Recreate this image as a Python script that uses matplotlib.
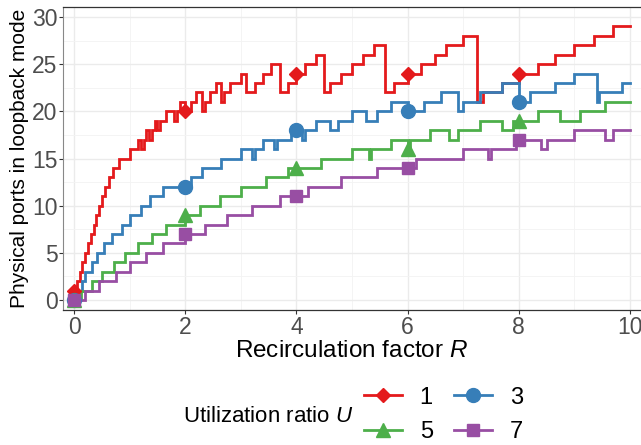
import numpy as np
import matplotlib
matplotlib.use('Agg')
import matplotlib.pyplot as plt
from matplotlib.lines import Line2D

plt.rcParams['font.family'] = ['Liberation Sans', 'DejaVu Sans']
plt.rcParams['mathtext.fontset'] = 'custom'
plt.rcParams['mathtext.rm'] = 'Liberation Sans'
plt.rcParams['mathtext.it'] = 'Liberation Sans:italic'

# Données : points de rupture des escaliers
x_red = [0, 0.05, 0.1, 0.15, 0.2, 0.25, 0.3, 0.35, 0.4, 0.45,
         0.5, 0.55, 0.62, 0.7, 0.8, 1.0, 1.15, 1.2, 1.25, 1.3,
         1.35, 1.4, 1.45, 1.5, 1.55, 1.65, 1.8, 1.85, 1.9, 2.0,
         2.1, 2.2, 2.3, 2.35, 2.45, 2.55, 2.65, 2.7, 2.8, 3.0,
         3.1, 3.25, 3.4, 3.55, 3.7, 3.85, 4.0, 4.15, 4.35, 4.5,
         4.6, 4.8, 5.0, 5.2, 5.4, 5.6, 5.75, 6.0, 6.25, 6.5,
         6.7, 7.0, 7.25, 7.35, 7.7, 8.0, 8.35, 8.65, 9.0, 9.35, 9.7]
y_red = [1, 2, 3, 4, 5, 6, 7, 8, 9, 10,
         11, 12, 13, 14, 15, 16, 17, 16, 17, 18,
         17, 18, 19, 18, 19, 20, 19, 20, 21, 20,
         21, 22, 20, 21, 22, 23, 21, 22, 23, 24,
         22, 23, 24, 25, 22, 23, 24, 25, 26, 22,
         23, 24, 25, 26, 27, 22, 23, 24, 25, 26,
         27, 28, 21, 22, 23, 24, 25, 26, 27, 28, 29]

x_blue = [0, 0.08, 0.14, 0.2, 0.32, 0.41, 0.53, 0.68, 0.86, 1.0,
          1.2, 1.37, 1.6, 2.1, 2.3, 2.65, 3.0, 3.2, 3.25, 3.4,
          3.6, 3.65, 3.9, 4.1, 4.15, 4.35, 4.6, 4.75, 5.0, 5.25,
          5.45, 5.7, 6.0, 6.3, 6.6, 6.9, 7.0, 7.3, 7.7, 8.0,
          8.2, 8.65, 9.0, 9.4, 9.45, 9.85]
y_blue = [0, 1, 2, 3, 4, 5, 6, 7, 8, 9,
          10, 11, 12, 13, 14, 15, 16, 15, 16, 17,
          16, 17, 18, 17, 18, 19, 18, 19, 20, 19,
          20, 21, 20, 21, 22, 20, 21, 22, 23, 21,
          22, 23, 24, 21, 22, 23]

x_green = [0, 0.12, 0.32, 0.5, 0.71, 0.92, 1.15, 1.4, 1.65, 2.0,
           2.27, 2.63, 3.0, 3.45, 3.85, 4.45, 5.0, 5.3, 5.35, 5.7,
           6.0, 6.05, 6.4, 6.75, 6.9, 7.3, 7.7, 7.9, 8.35, 8.75,
           9.1, 9.55]
y_green = [0, 1, 2, 3, 4, 5, 6, 7, 8, 9,
           10, 11, 12, 13, 14, 15, 16, 15, 16, 17,
           16, 17, 18, 17, 18, 19, 18, 19, 20, 19,
           20, 21]

x_purple = [0, 0.2, 0.45, 0.75, 1.0, 1.3, 1.6, 2.0, 2.35, 2.75,
            3.2, 3.7, 4.2, 4.8, 5.45, 6.15, 7.0, 7.45, 7.5, 7.95,
            8.4, 8.5, 9.0, 9.55, 9.7]
y_purple = [0, 1, 2, 3, 4, 5, 6, 7, 8, 9,
            10, 11, 12, 13, 14, 15, 16, 15, 16, 17,
            16, 17, 18, 17, 18]

R_max = 10
marker_R = [0, 2, 4, 6, 8]
labels = ['1', '3', '5', '7']

series = [
    (x_red, y_red, '#E41A1C', 'D', 7),
    (x_blue, y_blue, '#377EB8', 'o', 10),
    (x_green, y_green, '#4DAF4A', '^', 10),
    (x_purple, y_purple, '#984EA3', 's', 8),
]

fig = plt.figure(figsize=(6.41, 4.45), dpi=100)
ax = fig.add_axes([63/641, 1 - 310/445, (641 - 63)/641, (310 - 7)/445])

handles = []
for (xs, ys, col, mk, ms), lab in zip(series, labels):
    xs = np.array(xs, dtype=float)
    ys = np.array(ys, dtype=float)
    ax.step(np.append(xs, R_max), np.append(ys, ys[-1]), where='post',
            color=col, lw=2.0, solid_joinstyle='miter', zorder=3)
    idx = np.searchsorted(xs, np.array(marker_R, dtype=float), side='right') - 1
    ax.plot(np.array(marker_R), ys[idx], linestyle='none', marker=mk,
            markersize=ms, color=col, zorder=4)
    handles.append(Line2D([], [], color=col, lw=2.0, marker=mk,
                          markersize=ms, label=lab))

ax.set_xlim(-0.2, 10.2)
ax.set_ylim(-1.06, 31.06)
ax.set_xticks(range(0, 11, 2))
ax.set_yticks(range(0, 31, 5))
ax.set_xticks(range(1, 11, 2), minor=True)
ax.set_yticks(np.arange(2.5, 30, 5), minor=True)
ax.grid(True, which='major', color='#EBEBEB', lw=1.0, zorder=0)
ax.grid(True, which='minor', color='#F3F3F3', lw=0.6, zorder=0)
ax.set_axisbelow(True)
ax.tick_params(which='major', length=3, width=0.8, color='#333333',
               labelsize=16.5, labelcolor='#4D4D4D', pad=1)
ax.tick_params(which='minor', length=0)
for s in ['top', 'bottom']:
    ax.spines[s].set_color('#333333')
    ax.spines[s].set_linewidth(0.9)
ax.spines['left'].set_color('#888888')
ax.spines['left'].set_linewidth(0.8)
ax.spines['right'].set_visible(False)

ax.set_xlabel('Recirculation factor $R$', fontsize=17.5, labelpad=1)
ax.set_ylabel('Physical ports in loopback mode', fontsize=15, labelpad=2)

order = [0, 2, 1, 3]
leg = fig.legend([handles[i] for i in order], [labels[i] for i in order],
                 ncol=2, frameon=False, fontsize=17,
                 loc='center left', bbox_to_anchor=(343/641, 1 - 415/445),
                 handlelength=1.6, handletextpad=0.75, columnspacing=0.9,
                 labelspacing=0.55)
fig.text(183/641, 1 - 417/445, 'Utilization ratio $U$', fontsize=16,
         ha='left', va='center')

fig.savefig('out.png', dpi=100)
